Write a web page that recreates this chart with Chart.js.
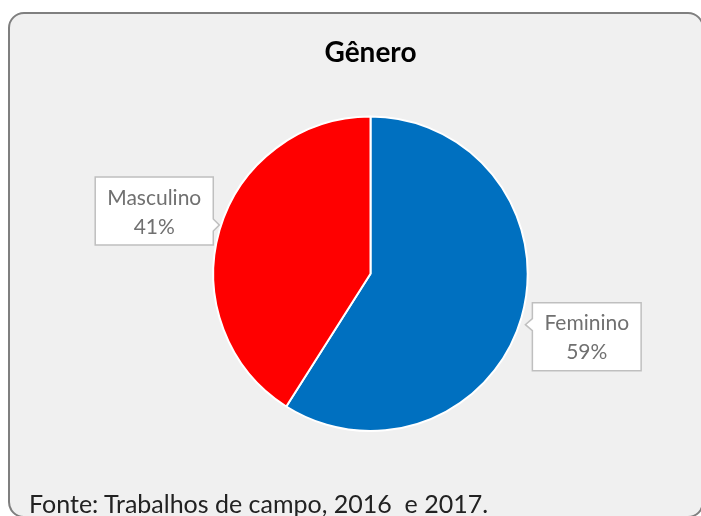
<!DOCTYPE html>
<html>
<head>
<meta charset="utf-8">
<script src="https://cdn.jsdelivr.net/npm/chart.js@4.4.0/dist/chart.umd.min.js"></script>
<style>
  html, body { margin: 0; padding: 0; background: #fff; overflow: hidden; }
  #frame {
    position: absolute; left: 8px; top: 12px; width: 692px; height: 502px;
    border: 2px solid #7f7f7f; border-radius: 16px; background: #f0f0f0;
  }
  #chartGenero { position: absolute; left: 0; top: 0; }
  #fonte {
    position: absolute; left: 29px; top: 491px; line-height: 1; white-space: pre;
    font-family: Lato, "Open Sans", sans-serif; font-size: 25px; color: #222;
  }
</style>
</head>
<body>
<div id="frame"></div>
<canvas id="chartGenero" width="701" height="516"></canvas>
<div id="fonte">Fonte: Trabalhos de campo, 2016  e 2017.</div>
<script>
// dados
const categorias = ['Feminino', 'Masculino'];
const percentuais = [59, 41];
const cores = ['#0070C0', '#FF0000'];

// rótulos em caixinhas tipo "callout" (como no Excel)
const calloutPlugin = {
    id: 'callouts',
    afterDatasetsDraw(chart) {
        const ctx = chart.ctx;
        const meta = chart.getDatasetMeta(0);
        ctx.save();
        ctx.font = '21px Lato, "Open Sans", sans-serif';
        meta.data.forEach((arc, i) => {
            const mid = (arc.startAngle + arc.endAngle) / 2;
            const dist = arc.outerRadius + 68;
            const cx = arc.x + Math.cos(mid) * dist;
            const cy = arc.y + Math.sin(mid) * dist;
            const linhas = [categorias[i], percentuais[i] + '%'];
            const w = Math.max(...linhas.map(t => ctx.measureText(t).width)) + 24;
            const h = 68;
            const x0 = cx - w / 2, y0 = cy - h / 2;
            const ladoDireito = Math.cos(mid) < 0; // ponteiro do lado da pizza
            const py = cy + (ladoDireito ? 14 : -12);

            ctx.beginPath();
            ctx.moveTo(x0, y0);
            ctx.lineTo(x0 + w, y0);
            if (ladoDireito) {
                ctx.lineTo(x0 + w, py - 6);
                ctx.lineTo(x0 + w + 6, py);
                ctx.lineTo(x0 + w, py + 6);
            }
            ctx.lineTo(x0 + w, y0 + h);
            ctx.lineTo(x0, y0 + h);
            if (!ladoDireito) {
                ctx.lineTo(x0, py + 6);
                ctx.lineTo(x0 - 7, py);
                ctx.lineTo(x0, py - 6);
            }
            ctx.closePath();
            ctx.fillStyle = '#ffffff';
            ctx.fill();
            ctx.strokeStyle = '#bfbfbf';
            ctx.lineWidth = 1.5;
            ctx.stroke();

            ctx.fillStyle = '#707070';
            ctx.textAlign = 'center';
            ctx.textBaseline = 'middle';
            ctx.fillText(linhas[0], cx, cy - 13);
            ctx.fillText(linhas[1], cx, cy + 16);
        });
        ctx.restore();
    }
};

const ctx = document.getElementById('chartGenero').getContext('2d');
const chartGenero = new Chart(ctx, {
    type: 'pie',
    data: {
        labels: categorias,
        datasets: [{
            data: percentuais,
            backgroundColor: cores,
            borderColor: '#ffffff',
            borderWidth: 2
        }]
    },
    options: {
        responsive: false,
        animation: false,
        layout: { padding: { top: 0, bottom: 84, left: 40, right: 0 } },
        plugins: {
            legend: { display: false },
            tooltip: { enabled: false },
            title: {
                display: true,
                text: 'Gênero',
                color: '#000',
                font: { family: 'Lato, "Open Sans", sans-serif', size: 28, weight: 'bold' },
                padding: { top: 36, bottom: 46 }
            }
        }
    },
    plugins: [calloutPlugin]
});
</script>
</body>
</html>
